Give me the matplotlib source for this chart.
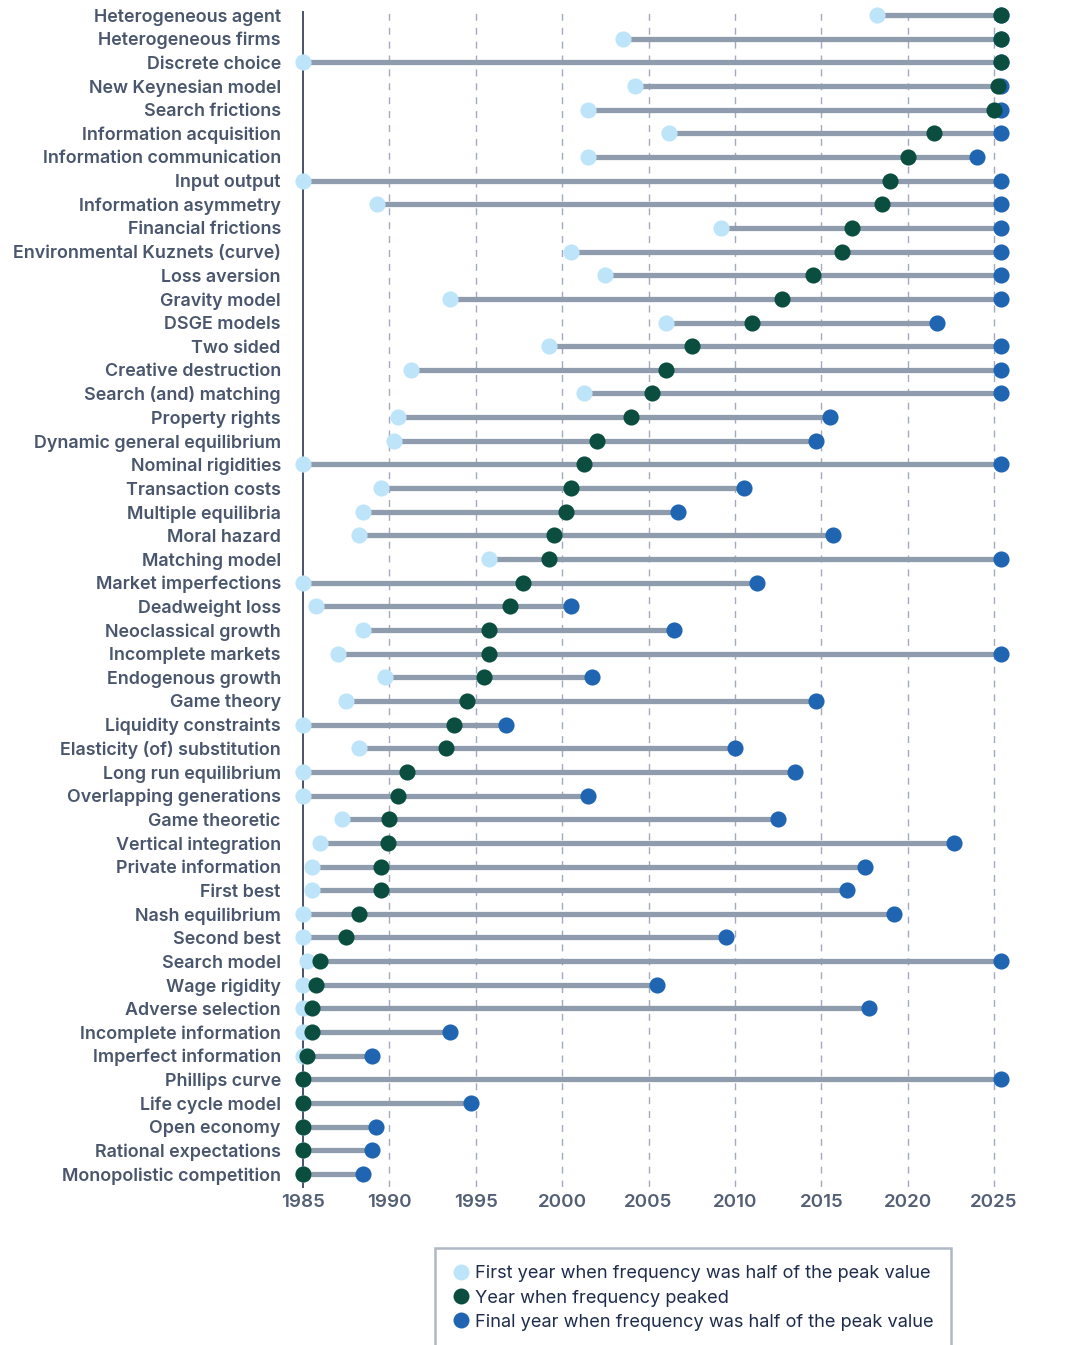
import matplotlib
matplotlib.use("Agg")
import matplotlib.pyplot as plt
from matplotlib.lines import Line2D

labels = [
    "Heterogeneous agent", "Heterogeneous firms", "Discrete choice", "New Keynesian model",
    "Search frictions", "Information acquisition", "Information communication", "Input output",
    "Information asymmetry", "Financial frictions", "Environmental Kuznets (curve)", "Loss aversion",
    "Gravity model", "DSGE models", "Two sided", "Creative destruction",
    "Search (and) matching", "Property rights", "Dynamic general equilibrium", "Nominal rigidities",
    "Transaction costs", "Multiple equilibria", "Moral hazard", "Matching model",
    "Market imperfections", "Deadweight loss", "Neoclassical growth", "Incomplete markets",
    "Endogenous growth", "Game theory", "Liquidity constraints", "Elasticity (of) substitution",
    "Long run equilibrium", "Overlapping generations", "Game theoretic", "Vertical integration",
    "Private information", "First best", "Nash equilibrium", "Second best",
    "Search model", "Wage rigidity", "Adverse selection", "Incomplete information",
    "Imperfect information", "Phillips curve", "Life cycle model", "Open economy",
    "Rational expectations", "Monopolistic competition",
]

first_year = [
    2018.2, 2003.5, 1985.0, 2004.2, 2001.5, 2006.2, 2001.5, 1985.0,
    1989.3, 2009.2, 2000.5, 2002.5, 1993.5, 2006.0, 1999.25, 1991.25,
    2001.25, 1990.5, 1990.25, 1985.0, 1989.5, 1988.5, 1988.25, 1995.75,
    1985.0, 1985.75, 1988.5, 1987.0, 1989.75, 1987.5, 1985.0, 1988.25,
    1985.0, 1985.0, 1987.25, 1986.0, 1985.5, 1985.5, 1985.0, 1985.0,
    1985.25, 1985.0, 1985.0, 1985.0, 1985.0, 1985.0, 1985.0, 1985.0,
    1985.0, 1985.0,
]

peak_year = [
    2025.4, 2025.4, 2025.4, 2025.2, 2025.0, 2021.5, 2020.0, 2019.0,
    2018.5, 2016.75, 2016.2, 2014.5, 2012.7, 2011.0, 2007.5, 2006.0,
    2005.2, 2004.0, 2002.0, 2001.25, 2000.5, 2000.25, 1999.5, 1999.25,
    1997.75, 1997.0, 1995.75, 1995.75, 1995.5, 1994.5, 1993.75, 1993.25,
    1991.0, 1990.5, 1990.0, 1989.9, 1989.5, 1989.5, 1988.25, 1987.5,
    1986.0, 1985.75, 1985.5, 1985.5, 1985.25, 1985.0, 1985.0, 1985.0,
    1985.0, 1985.0,
]

final_year = [
    2025.4, 2025.4, 2025.4, 2025.4, 2025.4, 2025.4, 2024.0, 2025.4,
    2025.4, 2025.4, 2025.4, 2025.4, 2025.4, 2021.7, 2025.4, 2025.4,
    2025.4, 2015.5, 2014.7, 2025.4, 2010.5, 2006.7, 2015.7, 2025.4,
    2011.25, 2000.5, 2006.5, 2025.4, 2001.75, 2014.7, 1996.75, 2010.0,
    2013.5, 2001.5, 2012.5, 2022.7, 2017.5, 2016.5, 2019.2, 2009.5,
    2025.4, 2005.5, 2017.75, 1993.5, 1989.0, 2025.4, 1994.75, 1989.25,
    1989.0, 1988.5,
]

xticks = [1985, 1990, 1995, 2000, 2005, 2010, 2015, 2020, 2025]
legend_labels = [
    "First year when frequency was half of the peak value",
    "Year when frequency peaked",
    "Final year when frequency was half of the peak value",
]

C_FIRST = "#BDE4F8"
C_PEAK = "#0B4E3F"
C_FINAL = "#1F65B2"
C_LINE = "#8F9CAE"
C_LABEL = "#4A566C"
C_TICK = "#535F74"
C_GRID = "#A3AAC0"
C_LEG = "#1E2C4C"

plt.rcParams["font.family"] = ["Inter", "DejaVu Sans"]

fig = plt.figure(figsize=(10.76, 13.45), dpi=100)
ax = fig.add_axes([303 / 1076, (1345 - 1187) / 1345, 717 / 1076, 1175 / 1345])

ys = list(range(len(labels)))
ax.hlines(ys, first_year, final_year, color=C_LINE, linewidth=3.8, zorder=2)
ms = 135
ax.scatter(first_year, ys, s=ms, color=C_FIRST, zorder=3, linewidths=0, clip_on=False)
ax.scatter(final_year, ys, s=ms, color=C_FINAL, zorder=4, linewidths=0, clip_on=False)
ax.scatter(peak_year, ys, s=ms, color=C_PEAK, zorder=5, linewidths=0, clip_on=False)

ax.set_xlim(1985, 2026.5)
ax.set_ylim(49.55, -0.13)
ax.set_yticks(ys)
ax.set_yticklabels(labels, fontsize=12.9, color=C_LABEL, fontweight="semibold")
ax.set_xticks(xticks)
ax.set_xticklabels([str(t) for t in xticks], fontsize=13.5, color=C_TICK, fontweight="semibold")
ax.tick_params(axis="y", length=0, pad=16)
ax.tick_params(axis="x", length=0, pad=5)

for t in xticks[1:]:
    ax.axvline(t, color=C_GRID, linewidth=1, linestyle=(0, (5, 5)), zorder=1)

for s in ["top", "right", "bottom"]:
    ax.spines[s].set_visible(False)
ax.spines["left"].set_color("#4A5366")
ax.spines["left"].set_linewidth(1.4)
ax.spines["left"].set_zorder(2.5)

handles = [
    Line2D([], [], marker="o", linestyle="none", markersize=11.5, color=c, markeredgewidth=0)
    for c in (C_FIRST, C_PEAK, C_FINAL)
]
leg = fig.legend(handles, legend_labels, loc="upper left",
                 bbox_to_anchor=(435 / 1076, 1 - 1248 / 1345),
                 frameon=True, fancybox=False, fontsize=13.1, labelcolor=C_LEG,
                 handletextpad=0.25, handlelength=1.0, borderpad=0.95, labelspacing=0.4,
                 borderaxespad=0)
leg.get_frame().set_edgecolor("#9CA7B8")
leg.get_frame().set_linewidth(1.8)

fig.savefig("out.png", dpi=100, facecolor="white")
